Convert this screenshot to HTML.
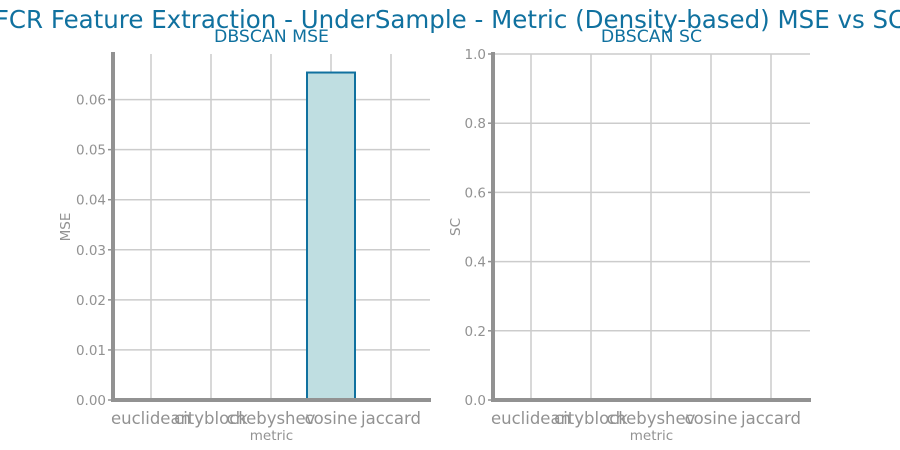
<!DOCTYPE html>
<html><head><meta charset="utf-8"><style>
html,body{margin:0;padding:0;background:#fff;width:900px;height:450px;overflow:hidden}
svg{font-family:"DejaVu Sans","Liberation Sans",sans-serif}
</style></head><body>
<svg id="c" width="900" height="450">
<text x="450" y="28" text-anchor="middle" font-size="24.5" fill="#10719f">FCR Feature Extraction - UnderSample - Metric (Density-based) MSE vs SC</text>
</svg>
<script>
const categories = ["euclidean","cityblock","chebyshev","cosine","jaccard"];
const mseValues = [0, 0, 0, 0.0654, 0];
const scValues = [0, 0, 0, 0, 0];
const mseTicks = [0.00,0.01,0.02,0.03,0.04,0.05,0.06];
const scTicks = [0.0,0.2,0.4,0.6,0.8,1.0];

const svg = document.getElementById('c');
const NS = 'http://www.w3.org/2000/svg';
function mk(tag, attrs, parent){const e=document.createElementNS(NS,tag);for(const k in attrs)e.setAttribute(k,attrs[k]);(parent||svg).appendChild(e);return e;}

function panel(x0, x1, y0, y1, ymax, values, ticks, dec, title, ylabel, prefix, ylx){
  const g = mk('g',{});
  
  
  const xs = i => x0 + 38 + i*60;
  const ys = v => y1 - (v/ymax)*(y1-y0);
  ticks.forEach(t=>{
    const l = mk('line',{x1:x0,x2:x1,y1:ys(t),y2:ys(t),stroke:'#cccccc','stroke-width':1.5},g);
    
    
  });
  categories.forEach((c,i)=>{
    const l = mk('line',{x1:xs(i),x2:xs(i),y1:y0,y2:y1,stroke:'#cccccc','stroke-width':1.5},g);
    
    
  });
  values.forEach((v,i)=>{
    if(v<=0) return;
    const r = mk('rect',{x:xs(i)-24,y:ys(v),width:48,height:y1-ys(v),fill:'#bfdee1',stroke:'#10719f','stroke-width':2},g);
    
    
  });
  const sl = mk('line',{x1:x0,x2:x0,y1:y0-2,y2:y1+2,stroke:'#929292','stroke-width':4},g);
  
  
  const sb = mk('line',{x1:x0-2,x2:x1+1,y1:y1,y2:y1,stroke:'#929292','stroke-width':4},g);
  
  
  ticks.forEach(t=>{
    mk('line',{x1:x0-5,x2:x0,y1:ys(t),y2:ys(t),stroke:'#929292','stroke-width':1.5},g);
    const tx = mk('text',{x:x0-7,y:ys(t)+5,'text-anchor':'end','font-size':13.5,fill:'#929292'},g);
    tx.textContent = t.toFixed(dec);
    
    
  });
  categories.forEach((c,i)=>{
    const tx = mk('text',{x:xs(i),y:y1+24,'text-anchor':'middle','font-size':16.5,fill:'#929292'},g);
    tx.textContent = c;
    
    
  });
  const tt = mk('text',{x:(x0+x1)/2,y:y0-12,'text-anchor':'middle','font-size':17.3,fill:'#10719f'},g);
  tt.textContent = title;
  
  
  const xl = mk('text',{x:(x0+x1)/2,y:y1+40,'text-anchor':'middle','font-size':13.5,fill:'#929292'},g);
  xl.textContent = 'metric';
  
  
  const yl = mk('text',{x:0,y:0,'text-anchor':'middle','font-size':13.5,fill:'#929292',transform:`translate(${ylx},${(y0+y1)/2}) rotate(-90)`},g);
  yl.textContent = ylabel;
  
  
}
panel(113, 430, 54, 400, 0.0691, mseValues, mseTicks, 2, 'DBSCAN MSE', 'MSE', 'mse', 70);
panel(493, 810, 54, 400, 1.0, scValues, scTicks, 1, 'DBSCAN SC', 'SC', 'sc', 460);
</script>
</body></html>
